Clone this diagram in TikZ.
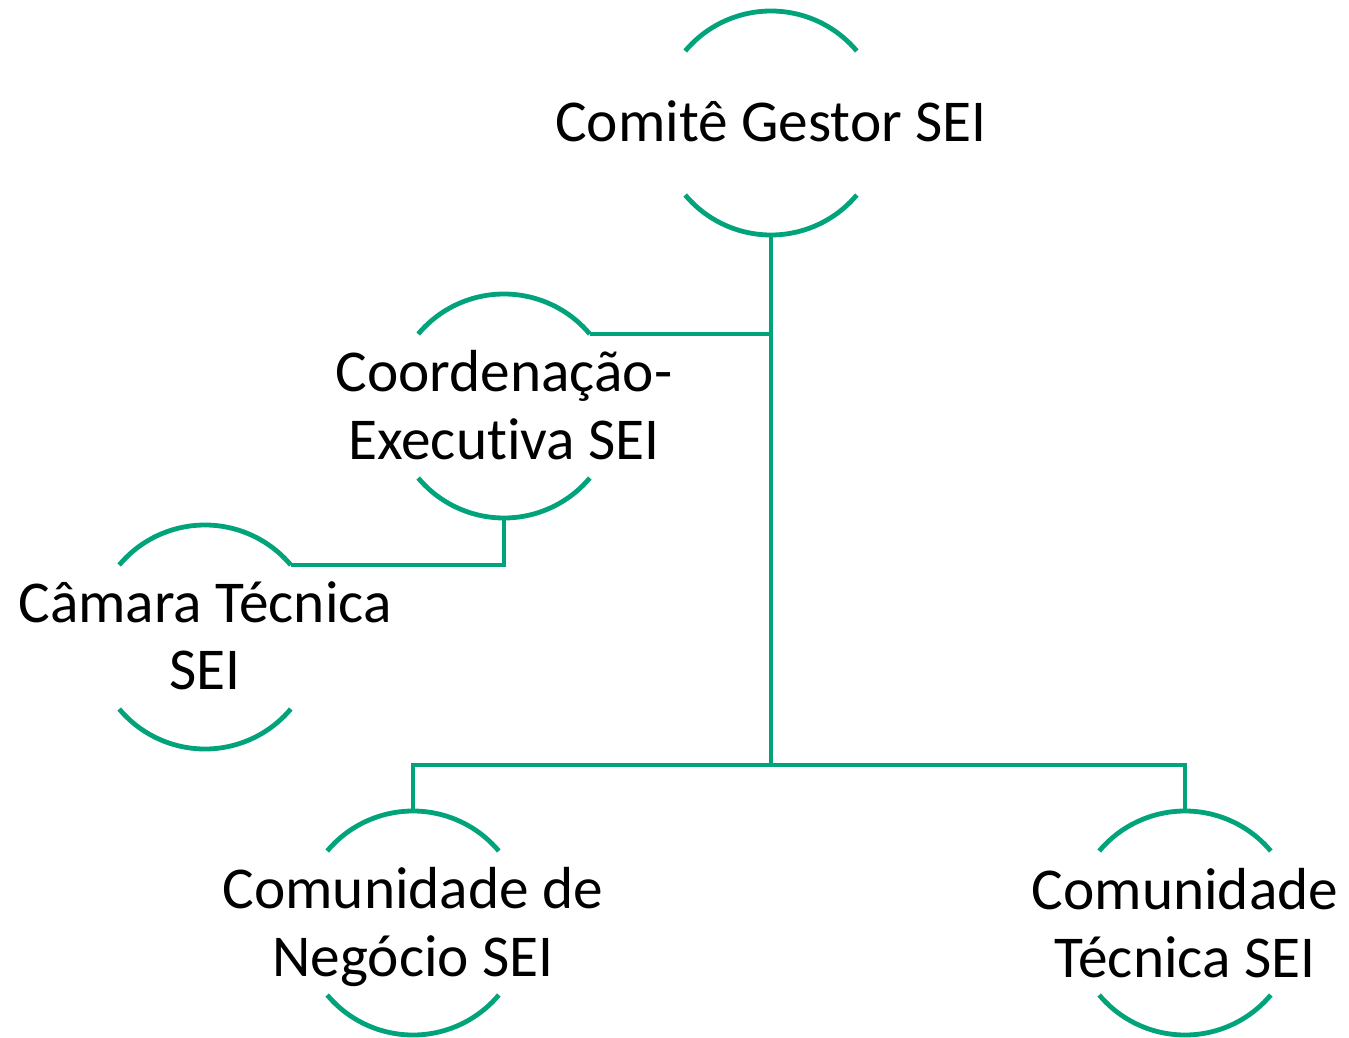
\documentclass[tikz,border=0pt]{standalone}
\usepackage{fontspec}
\setmainfont{Carlito}[RawFeature={-liga;-clig;-dlig}]
\definecolor{smgreen}{RGB}{0,163,122}
\tikzset{
  ring/.style={circle, minimum size=168pt, inner sep=0pt, outer sep=0pt},
  label/.style={align=center, font=\fontsize{44.5}{50.5}\selectfont, text=black, inner sep=0pt},
  arcs/.style={draw=smgreen, line width=3.6pt},
  conn/.style={draw=smgreen, line width=3.6pt}
}
\newcommand{\ringarcs}[1]{%
  \draw[arcs] (#1.140) arc[start angle=140, end angle=40, radius=84pt];
  \draw[arcs] (#1.220) arc[start angle=220, end angle=320, radius=84pt];
}
\begin{document}
\begin{tikzpicture}[x=0.75pt, y=-0.75pt]
\useasboundingbox (0,0) rectangle (1349,1038);
% rings
\node[ring] (cg) at (771,123) {};
\node[ring] (ce) at (504,406) {};
\node[ring] (ct) at (205,637) {};
\node[ring] (cn) at (413,923) {};
\node[ring] (tc) at (1185,923) {};
\ringarcs{cg}
\ringarcs{ce}
\ringarcs{ct}
\ringarcs{cn}
\ringarcs{tc}
% texts
\node[label] (cgt) at (771,121) {Comitê Gestor SEI};
\node[label] (cet) at (504,405) {Coordenação-\\Executiva SEI};
\node[label] (ctt) at (205,636) {Câmara Técnica\\SEI};
\node[label] (cnt) at (413,927) {Comunidade de\\Negócio SEI};
\node[label] (tct) at (1185,923) {Comunidade\\Técnica SEI};
% connectors
\coordinate (bot) at (771,765);
\draw[conn] (cg.south) -- (bot);
\draw[conn] (ce.40) -- (ce.40 -| cg.south);
\draw[conn] (ce.south) |- (ct.40);
\draw[conn] (cn.north) |- (bot) -| (tc.north);
\end{tikzpicture}
\end{document}
